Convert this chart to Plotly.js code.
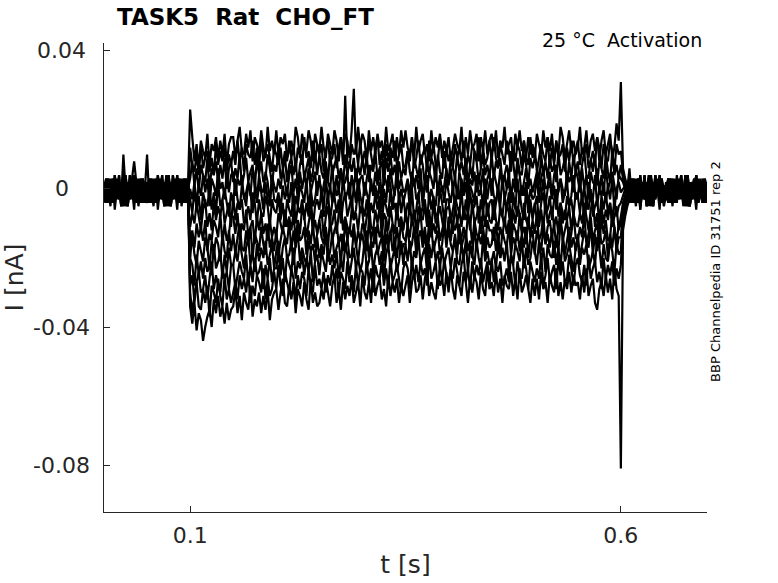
<!DOCTYPE html>
<html>
<head>
<meta charset="utf-8">
<script src="https://cdn.plot.ly/plotly-3.0.1.min.js"></script>
<style>html,body{margin:0;padding:0;background:#fff;}#plot{width:778px;height:583px;}</style>
</head>
<body>
<div id="plot"></div>
<script>
// Time axis: sampling start and interval [s]
const t0 = 0;
const dt = 0.0025;

// Current traces [nA], one per voltage sweep (281 samples, 0 .. 0.7 s)
const sweep01 = [
-.003,.003,-.001,0,-.004,.002,-.002,.001,-.003,.010,0,-.005,.001,-.002,.004,-.003,-.001,.002,-.004,0,
.010,-.003,-.002,0,.002,-.004,.003,-.001,.001,-.005,.004,-.002,.002,-.003,0,-.001,.003,-.004,-.002,.001,
.023,.015,.008,.013,.006,.014,.011,.009,.016,.007,.013,.011,.015,.009,.014,.010,.016,.007,.013,.015,
.015,.009,.014,.018,.011,.010,.016,.012,.017,.008,.015,.013,.010,.017,.012,.009,.018,.011,.014,.010,
.017,.010,.015,.013,.016,.009,.011,.014,.010,.018,.015,.009,.016,.012,.011,.017,.014,.008,.016,.013,
.011,.018,.012,.009,.016,.013,.010,.017,.014,.008,.015,.011,.016,.014,.009,.017,.029,.010,.018,.012,
.016,.014,.008,.017,.011,.015,.010,.016,.012,.014,.009,.018,.011,.013,.016,.008,.015,.010,.017,.012,
.017,.012,.010,.015,.009,.018,.011,.014,.016,.010,.013,.008,.017,.011,.015,.012,.016,.009,.014,.011,
.015,.008,.012,.016,.013,.011,.018,.009,.015,.010,.017,.012,.013,.016,.008,.015,.011,.017,.010,.014,
.016,.011,.017,.009,.014,.012,.018,.010,.013,.015,.008,.016,.012,.017,.011,.014,.009,.015,.010,.013,
.009,.016,.013,.010,.017,.012,.015,.011,.016,.008,.014,.010,.018,.015,.009,.013,.017,.011,.014,.010,
.012,.018,.010,.012,.017,.009,.014,.016,.011,.015,.008,.014,.017,.010,.013,.016,.009,.012,.019,.014,
.031,.006,.003,.001,.002,-.004,.001,-.001,.003,-.006,0,-.003,.002,-.002,.001,-.004,.004,-.002,-.001,.003,-.005,
.001,-.002,-.004,.003,-.001,0,-.003,.002,-.002,.004,-.005,.001,-.001,.003,-.004,.002,0,-.002,-.003,.001
];
const sweep02 = [
.001,-.002,-.004,.003,-.001,0,-.003,.002,-.002,.004,-.005,.001,-.001,.003,.008,.002,0,-.002,-.003,.001,
0,.003,-.004,-.001,.001,-.003,.002,-.002,-.001,.004,-.005,.001,-.003,.002,0,-.004,-.002,.003,.001,-.003,
.012,.007,.005,.010,.004,.013,.006,.009,.011,.005,.009,.004,.013,.007,.011,.008,.012,.005,.010,.007,
.011,.007,.014,.008,.012,.005,.013,.010,.009,.014,.007,.012,.006,.015,.008,.010,.013,.009,.005,.012,
.010,.007,.012,.006,.011,.008,.014,.009,.013,.005,.012,.010,.007,.015,.009,.011,.006,.014,.008,.013,
.010,.013,.005,.011,.014,.008,.009,.013,.006,.012,.015,.007,.027,.008,.006,.013,.010,.012,.007,.014,
.007,.011,.008,.014,.010,.006,.012,.015,.007,.011,.005,.013,.008,.012,.009,.014,.007,.010,.013,.006,
.007,.011,.008,.015,.006,.009,.014,.007,.010,.012,.005,.014,.009,.013,.007,.008,.015,.011,.006,.012,
.008,.011,.006,.013,.009,.012,.008,.014,.005,.010,.007,.013,.011,.008,.015,.006,.012,.007,.009,.014,
.008,.015,.009,.006,.013,.010,.007,.014,.011,.005,.012,.008,.013,.011,.006,.014,.009,.007,.015,.009,
.012,.005,.009,.013,.010,.008,.015,.006,.012,.007,.014,.009,.010,.013,.005,.012,.008,.014,.007,.011,
.014,.007,.012,.010,.013,.006,.008,.011,.007,.015,.012,.006,.013,.009,.008,.014,.011,.005,.013,.010,
.011,.005,.002,0,.006,-.003,.003,0,-.004,.001,-.002,.004,-.003,-.001,.002,-.005,0,-.002,.003,-.003,.001,
-.002,.003,-.001,-.004,.002,-.003,.001,0,-.003,.003,-.002,-.005,.002,-.001,.004,-.003,.001,-.002,0,-.004
];
const sweep03 = [
0,.003,-.004,-.001,.001,-.003,.002,-.002,-.001,.004,-.005,.001,-.003,.002,0,-.004,-.002,.003,.001,-.003,
-.003,.003,-.001,0,-.004,.002,-.002,.001,-.003,.003,0,-.005,.001,-.002,.004,-.003,-.001,.002,-.004,0,
.003,.008,.001,.006,-.001,.007,.004,.002,.009,0,.006,.004,.008,.002,.007,.003,.009,0,.006,.008,
.002,.006,.003,.010,.001,.004,.009,.002,.005,.007,0,.009,.004,.008,.002,.003,.010,.006,.001,.007,
.005,.011,.003,.005,.010,.002,.007,.009,.004,.008,.001,.007,.010,.003,.006,.009,.002,.005,.011,.004,
.010,.005,.003,.008,.002,.011,.004,.007,.009,.003,.006,.001,.010,.004,.008,.005,.009,.002,.007,.004,
.009,.004,.010,.002,.007,.005,.011,.003,.006,.008,.001,.009,.005,.010,.004,.007,.002,.008,.003,.006,
.004,.011,.005,.002,.009,.006,.003,.010,.007,.001,.008,.004,.009,.007,.002,.010,.005,.003,.011,.005,
.002,.009,.006,.003,.010,.005,.008,.004,.009,.001,.007,.003,.011,.008,.002,.006,.010,.004,.007,.003,
.010,.003,.008,.006,.009,.002,.004,.007,.003,.011,.008,.002,.009,.005,.004,.010,.007,.001,.009,.006,
.009,.007,.001,.010,.004,.008,.003,.009,.005,.007,.002,.011,.004,.006,.009,.001,.008,.003,.010,.005,
.008,.002,.007,.011,.004,.003,.009,.005,.010,.001,.008,.006,.003,.010,.005,.002,.011,.004,.007,.003,
.007,.003,.001,.002,0,-.004,.002,-.001,-.003,.004,-.002,.001,-.005,0,.003,-.003,.001,-.002,.002,-.004,0,
-.001,-.003,.003,0,-.004,.001,-.002,.004,-.003,-.001,.002,-.005,0,-.002,.003,-.003,.001,-.004,.002,-.001
];
const sweep04 = [
.002,-.003,0,-.005,.003,-.001,-.002,.004,-.004,.001,-.002,.002,-.003,0,-.006,.003,-.001,.001,-.004,.002,
-.001,.002,-.004,.001,-.003,.003,-.002,0,-.005,.002,-.001,-.003,.004,-.002,.001,-.004,0,.003,-.003,-.001,
0,-.003,.002,-.004,.001,-.002,.004,-.001,.003,-.005,.003,.001,-.002,.006,0,.002,-.003,.005,-.001,.004,
.005,-.002,.003,.001,.004,-.003,-.001,.002,-.002,.006,.003,-.003,.004,0,-.001,.005,.002,-.004,.004,.001,
-.001,.003,0,.006,.002,-.002,.004,.007,-.001,.003,-.003,.005,0,.004,.001,.006,-.001,.002,.005,-.002,
.004,-.003,.001,.005,.002,0,.007,-.002,.004,-.001,.006,.001,.002,.005,-.003,.004,0,.006,-.001,.003,
.004,-.002,.003,.007,0,-.001,.005,.001,.006,-.003,.004,.002,-.001,.006,.001,-.002,.007,0,.003,-.001,
0,.003,-.002,.005,.001,.004,0,.006,-.003,.002,-.001,.005,.003,0,.007,-.002,.004,-.001,.001,.006,
.001,.006,-.001,.004,-.003,.005,.002,0,.007,-.002,.003,.001,.005,-.001,.004,0,.006,-.003,.003,.005,
-.002,.005,.002,-.001,.006,.001,.004,0,.005,-.003,.003,-.001,.007,.004,-.002,.002,.006,0,.003,-.001,
.002,.005,-.003,.003,.006,0,.001,.005,-.002,.004,.007,-.001,.003,0,-.002,.005,.002,.004,-.001,.006,
.003,-.001,.006,0,.004,-.003,.005,.002,.001,.006,-.001,.004,-.002,.007,0,.002,.005,.001,-.003,.004,
.003,.002,0,.001,-.004,0,-.002,.001,-.003,.004,-.001,.002,-.005,-.002,.003,-.003,0,.001,-.003,.002,-.004,
-.003,.001,.003,-.002,-.004,0,.002,-.003,.001,-.005,.004,-.001,-.002,.002,-.003,.001,-.001,-.004,.003,0
];
const sweep05 = [
-.004,0,-.002,.001,-.003,.004,-.001,.002,-.005,-.002,.003,-.003,0,.001,-.003,.002,-.004,-.001,.003,-.002,
.002,-.004,.001,-.001,.003,-.006,0,-.003,.002,-.002,.001,-.004,.004,-.002,-.001,.003,-.005,0,-.003,.002,
-.003,-.007,0,-.006,-.002,-.009,-.001,-.004,-.005,0,-.006,-.001,-.007,.002,-.005,-.003,0,-.004,-.008,-.001,
-.004,.003,-.003,-.006,.001,-.002,-.005,.002,-.001,-.007,0,-.004,.001,-.001,-.006,.002,-.003,-.005,.003,-.003,
-.004,-.001,-.006,.001,-.003,0,-.004,.002,-.007,-.002,-.005,.001,-.001,-.004,.003,-.006,0,-.005,-.003,.002,
.002,0,-.006,.003,-.003,.001,-.004,.002,-.002,0,-.005,.004,-.003,-.001,.002,-.006,.001,-.004,.003,-.002,
-.005,.002,-.001,-.004,.003,-.002,.001,-.003,.002,-.006,0,-.004,.004,.001,-.005,-.001,.003,-.003,0,-.004,
-.001,.002,-.006,0,.003,-.003,-.002,.002,-.005,.001,.004,-.004,0,-.003,-.005,.002,-.001,.001,-.004,.003,
-.001,-.004,.001,-.005,0,-.003,.003,-.002,.002,-.006,.001,-.001,-.004,.004,-.002,0,-.005,.003,-.003,.002,
.003,-.002,-.004,.001,-.005,.004,-.003,0,.002,-.004,-.001,-.006,.003,-.003,.001,-.002,.002,-.005,0,-.003,
-.002,.004,-.004,-.002,.003,-.005,0,.002,-.003,.001,-.006,0,.003,-.004,-.001,.002,-.005,-.002,.004,-.003,
-.002,.003,-.004,.001,-.006,.002,-.001,-.003,.004,-.005,0,-.002,.002,-.004,.001,-.003,.003,-.006,0,.002,
-.001,0,.001,-.002,.001,-.002,-.004,.003,-.001,0,-.003,.002,-.002,.004,-.005,.001,-.001,.003,-.004,.002,0,
-.003,.003,-.001,0,-.004,.002,-.002,.001,-.003,.003,0,-.005,.001,-.002,.004,-.003,-.001,.002,-.004,0
];
const sweep06 = [
-.001,-.003,.003,0,-.004,.001,-.002,.004,-.003,-.001,.002,-.005,0,-.002,.003,-.003,.001,-.004,.002,-.001,
-.002,.003,-.001,-.004,.002,-.003,.001,0,-.003,.003,-.002,-.005,.002,-.001,.004,-.003,.001,-.002,0,-.004,
-.011,-.007,-.010,-.004,-.008,-.012,-.006,-.003,-.011,-.007,-.012,-.004,-.009,-.005,-.008,-.003,-.010,-.007,-.004,-.011,
-.002,-.009,-.004,-.006,-.003,-.010,-.008,-.005,-.009,-.001,-.004,-.010,-.003,-.007,-.008,-.002,-.005,-.011,-.003,-.006,
-.007,-.002,-.009,-.004,-.011,-.003,-.006,-.008,-.001,-.010,-.005,-.007,-.003,-.009,-.004,-.008,-.002,-.011,-.005,-.003,
-.006,0,-.008,-.006,-.001,-.009,-.004,-.002,-.007,-.003,-.010,-.004,-.001,-.008,-.005,-.002,-.009,-.006,0,-.007,
-.005,-.008,-.003,-.009,-.004,-.007,-.001,-.006,-.002,-.010,-.003,-.005,-.008,0,-.006,-.004,-.009,-.001,-.007,-.002,
-.008,-.004,-.007,0,-.009,-.006,-.001,-.008,-.005,-.003,-.010,-.001,-.006,-.002,-.008,-.007,0,-.004,-.009,-.003,
-.003,-.010,-.006,-.002,-.005,-.007,0,-.009,-.003,-.008,-.001,-.006,-.005,-.002,-.010,-.003,-.007,-.001,-.008,-.004,
-.003,-.009,-.004,0,-.007,-.008,-.002,-.006,-.001,-.010,-.003,-.005,-.008,-.001,-.006,-.009,0,-.007,-.004,-.008,
-.005,-.002,-.010,-.004,-.001,-.007,-.006,-.002,-.009,-.003,0,-.008,-.004,-.007,-.009,-.002,-.005,-.003,-.008,-.001,
-.002,-.007,-.001,-.009,-.004,-.006,0,-.008,-.005,-.003,-.010,-.002,-.006,-.001,-.007,-.004,-.009,-.003,-.008,-.005,
-.004,-.002,0,-.001,0,.003,-.004,-.001,.001,-.003,.002,-.002,-.001,.004,-.005,.001,-.003,.002,0,-.004,-.002,
.002,-.003,0,-.005,.003,-.001,-.002,.004,-.004,.001,-.002,.002,-.003,0,-.006,.003,-.001,.001,-.004,.002
];
const sweep07 = [
.001,-.003,-.002,0,.002,-.004,.003,-.001,.001,-.005,.004,-.002,.002,-.003,0,-.001,.003,-.004,-.002,.001,
-.003,.001,.003,-.002,-.004,0,.002,-.003,.001,-.005,.004,-.001,-.002,.002,-.003,.001,-.001,-.004,.003,0,
-.015,-.012,-.017,-.010,-.014,-.011,-.015,-.009,-.018,-.013,-.015,-.009,-.011,-.014,-.007,-.016,-.010,-.015,-.013,-.008,
-.008,-.013,-.007,-.015,-.010,-.012,-.006,-.014,-.011,-.009,-.016,-.008,-.012,-.007,-.013,-.010,-.015,-.009,-.014,-.011,
-.014,-.007,-.010,-.013,-.006,-.011,-.008,-.012,-.007,-.015,-.009,-.013,-.005,-.008,-.014,-.010,-.006,-.012,-.009,-.013,
-.009,-.006,-.014,-.008,-.005,-.011,-.010,-.006,-.013,-.007,-.004,-.012,-.008,-.011,-.013,-.006,-.009,-.007,-.012,-.005,
-.007,-.013,-.008,-.004,-.011,-.012,-.006,-.010,-.005,-.014,-.007,-.009,-.012,-.005,-.010,-.013,-.004,-.011,-.008,-.012,
-.007,-.011,-.004,-.010,-.006,-.013,-.005,-.008,-.009,-.004,-.011,-.006,-.012,-.003,-.010,-.008,-.005,-.009,-.013,-.006,
-.005,-.007,-.013,-.004,-.010,-.006,-.011,-.005,-.009,-.007,-.012,-.003,-.010,-.008,-.005,-.013,-.006,-.011,-.004,-.009,
-.010,-.003,-.009,-.012,-.005,-.008,-.011,-.004,-.007,-.013,-.006,-.010,-.005,-.007,-.012,-.004,-.009,-.011,-.003,-.009,
-.004,-.009,-.011,-.006,-.012,-.003,-.010,-.007,-.005,-.011,-.008,-.013,-.004,-.010,-.006,-.009,-.005,-.012,-.007,-.010,
-.011,-.007,-.010,-.004,-.008,-.012,-.006,-.003,-.011,-.007,-.013,-.005,-.010,-.006,-.009,-.004,-.011,-.008,-.005,-.012,
-.008,-.004,-.002,.001,.002,-.003,0,-.005,.003,-.001,-.002,.004,-.004,.001,-.002,.002,-.003,0,-.006,.003,-.001,
.001,-.003,-.002,0,.002,-.004,.003,-.001,.001,-.005,.004,-.002,.002,-.003,0,-.001,.003,-.004,-.002,.001
];
const sweep08 = [
.002,-.004,.001,-.001,.003,-.006,0,-.003,.002,-.002,.001,-.004,.004,-.002,-.001,.003,-.005,0,-.003,.002,
0,-.004,.002,-.001,-.003,.004,-.002,.001,-.005,0,.003,-.003,.001,-.002,.002,-.004,0,-.001,.003,-.003,
-.020,-.013,-.019,-.022,-.015,-.018,-.021,-.014,-.017,-.023,-.015,-.019,-.014,-.016,-.021,-.013,-.018,-.020,-.012,-.018,
-.013,-.019,-.014,-.010,-.017,-.018,-.012,-.016,-.011,-.020,-.013,-.015,-.018,-.011,-.016,-.019,-.010,-.017,-.014,-.018,
-.012,-.019,-.015,-.011,-.014,-.016,-.009,-.018,-.012,-.017,-.010,-.015,-.014,-.011,-.019,-.012,-.016,-.010,-.017,-.013,
-.009,-.014,-.016,-.011,-.017,-.008,-.015,-.012,-.010,-.016,-.013,-.018,-.009,-.015,-.011,-.014,-.010,-.017,-.012,-.015,
-.010,-.012,-.018,-.009,-.015,-.011,-.016,-.010,-.014,-.012,-.017,-.008,-.015,-.013,-.010,-.018,-.011,-.016,-.009,-.014,
-.015,-.011,-.014,-.008,-.012,-.016,-.010,-.007,-.015,-.011,-.017,-.009,-.014,-.010,-.013,-.008,-.015,-.012,-.009,-.016,
-.008,-.015,-.010,-.012,-.009,-.016,-.014,-.011,-.015,-.007,-.010,-.016,-.009,-.013,-.014,-.008,-.011,-.017,-.009,-.012,
-.012,-.015,-.010,-.016,-.011,-.014,-.008,-.013,-.009,-.017,-.010,-.012,-.015,-.007,-.013,-.011,-.016,-.008,-.014,-.009,
-.013,-.007,-.015,-.013,-.008,-.016,-.011,-.009,-.014,-.010,-.017,-.011,-.008,-.015,-.012,-.009,-.016,-.013,-.007,-.014,
-.015,-.011,-.014,-.007,-.016,-.013,-.008,-.015,-.012,-.010,-.017,-.008,-.013,-.009,-.015,-.014,-.007,-.011,-.016,-.010,
-.011,-.005,-.002,0,-.003,.003,-.001,0,-.004,.002,-.002,.001,-.003,.003,0,-.005,.001,-.002,.004,-.003,-.001,
-.002,.003,-.001,-.004,.002,-.003,.001,0,-.003,.003,-.002,-.005,.002,-.001,.004,-.003,.001,-.002,0,-.004
];
const sweep09 = [
0,-.004,.002,-.001,-.003,.004,-.002,.001,-.005,0,.003,-.003,.001,-.002,.002,-.004,0,-.001,.003,-.003,
-.004,0,-.002,.001,-.003,.004,-.001,.002,-.005,-.002,.003,-.003,0,.001,-.003,.002,-.004,-.001,.003,-.002,
-.020,-.022,-.028,-.019,-.025,-.021,-.026,-.020,-.024,-.022,-.025,-.016,-.023,-.021,-.018,-.026,-.019,-.024,-.017,-.022,
-.022,-.018,-.021,-.015,-.019,-.023,-.017,-.014,-.022,-.018,-.024,-.016,-.021,-.017,-.020,-.015,-.022,-.019,-.016,-.023,
-.018,-.015,-.023,-.017,-.014,-.020,-.019,-.015,-.022,-.016,-.013,-.021,-.017,-.020,-.022,-.015,-.018,-.016,-.021,-.014,
-.020,-.016,-.019,-.012,-.021,-.018,-.013,-.020,-.017,-.015,-.022,-.013,-.018,-.014,-.020,-.019,-.012,-.016,-.021,-.015,
-.013,-.018,-.012,-.020,-.015,-.017,-.011,-.019,-.016,-.014,-.021,-.013,-.017,-.012,-.018,-.015,-.020,-.014,-.019,-.016,
-.016,-.010,-.018,-.016,-.011,-.019,-.014,-.012,-.017,-.013,-.020,-.014,-.011,-.018,-.015,-.012,-.019,-.016,-.010,-.017,
-.011,-.016,-.018,-.013,-.019,-.010,-.017,-.014,-.012,-.018,-.015,-.020,-.011,-.017,-.013,-.016,-.012,-.019,-.014,-.017,
-.016,-.011,-.018,-.013,-.020,-.012,-.015,-.017,-.010,-.019,-.014,-.016,-.012,-.018,-.013,-.017,-.011,-.020,-.014,-.012,
-.019,-.012,-.015,-.018,-.011,-.016,-.013,-.017,-.012,-.020,-.014,-.018,-.010,-.013,-.019,-.015,-.011,-.017,-.014,-.018,
-.013,-.020,-.016,-.012,-.015,-.017,-.010,-.019,-.013,-.018,-.011,-.016,-.015,-.012,-.020,-.013,-.017,-.011,-.018,-.014,
-.014,-.006,-.003,-.001,-.001,.002,-.004,.001,-.003,.003,-.002,0,-.005,.002,-.001,-.003,.004,-.002,.001,-.004,0,
0,.003,-.004,-.001,.001,-.003,.002,-.002,-.001,.004,-.005,.001,-.003,.002,0,-.004,-.002,.003,.001,-.003
];
const sweep10 = [
-.002,.003,-.001,-.004,.002,-.003,.001,0,-.003,.003,-.002,-.005,.002,-.001,.004,-.003,.001,-.002,0,-.004,
-.001,-.003,.003,0,-.004,.001,-.002,.004,-.003,-.001,.002,-.005,0,-.002,.003,-.003,.001,-.004,.002,-.001,
-.028,-.025,-.033,-.027,-.024,-.030,-.029,-.025,-.032,-.026,-.021,-.029,-.025,-.028,-.030,-.023,-.026,-.024,-.029,-.022,
-.022,-.029,-.025,-.021,-.024,-.026,-.019,-.028,-.022,-.027,-.020,-.025,-.024,-.021,-.029,-.022,-.026,-.020,-.027,-.023,
-.023,-.018,-.025,-.020,-.027,-.019,-.022,-.024,-.017,-.026,-.021,-.023,-.019,-.025,-.020,-.024,-.018,-.027,-.021,-.019,
-.025,-.018,-.021,-.024,-.017,-.022,-.019,-.023,-.018,-.026,-.020,-.024,-.016,-.019,-.025,-.021,-.017,-.023,-.020,-.024,
-.021,-.015,-.023,-.021,-.016,-.024,-.019,-.017,-.022,-.018,-.025,-.019,-.016,-.023,-.020,-.017,-.024,-.021,-.015,-.022,
-.016,-.021,-.015,-.023,-.018,-.020,-.014,-.022,-.019,-.017,-.024,-.016,-.020,-.015,-.021,-.018,-.023,-.017,-.022,-.019,
-.017,-.023,-.018,-.014,-.021,-.022,-.016,-.020,-.015,-.024,-.017,-.019,-.022,-.015,-.020,-.023,-.014,-.021,-.018,-.022,
-.021,-.018,-.023,-.016,-.020,-.017,-.021,-.015,-.024,-.019,-.022,-.016,-.018,-.021,-.014,-.023,-.017,-.022,-.020,-.015,
-.018,-.022,-.015,-.021,-.017,-.024,-.016,-.019,-.020,-.015,-.022,-.017,-.023,-.014,-.021,-.019,-.016,-.020,-.024,-.017,
-.015,-.022,-.017,-.019,-.016,-.023,-.021,-.018,-.022,-.014,-.017,-.023,-.016,-.020,-.021,-.015,-.018,-.024,-.016,-.019,
-.018,-.007,-.004,-.002,.002,-.004,.001,-.001,.003,-.006,0,-.003,.002,-.002,.001,-.004,.004,-.002,-.001,.003,-.005,
.001,-.002,-.004,.003,-.001,0,-.003,.002,-.002,.004,-.005,.001,-.001,.003,-.004,.002,0,-.002,-.003,.001
];
const sweep11 = [
-.003,.001,.003,-.002,-.004,0,.002,-.003,.001,-.005,.004,-.001,-.002,.002,-.003,.001,-.001,-.004,.003,0,
.001,-.002,-.004,.003,-.001,0,-.003,.002,-.002,.004,-.005,.001,-.001,.003,-.004,.002,0,-.002,-.003,.001,
-.030,-.036,-.031,-.027,-.034,-.035,-.029,-.033,-.028,-.037,-.028,-.030,-.033,-.026,-.031,-.034,-.025,-.032,-.029,-.033,
-.030,-.027,-.032,-.025,-.029,-.026,-.030,-.024,-.033,-.028,-.031,-.025,-.027,-.030,-.023,-.032,-.026,-.031,-.029,-.024,
-.029,-.022,-.028,-.031,-.024,-.027,-.030,-.023,-.026,-.032,-.025,-.029,-.024,-.026,-.031,-.023,-.028,-.030,-.022,-.028,
-.026,-.029,-.024,-.030,-.025,-.028,-.022,-.027,-.023,-.031,-.024,-.026,-.029,-.021,-.027,-.025,-.030,-.022,-.028,-.023,
-.024,-.028,-.021,-.027,-.023,-.030,-.022,-.025,-.026,-.021,-.028,-.023,-.029,-.020,-.027,-.025,-.022,-.026,-.030,-.023,
-.021,-.023,-.029,-.020,-.026,-.022,-.027,-.021,-.025,-.023,-.028,-.019,-.026,-.024,-.021,-.029,-.022,-.027,-.020,-.025,
-.027,-.023,-.026,-.020,-.024,-.028,-.022,-.019,-.027,-.023,-.029,-.021,-.026,-.022,-.025,-.020,-.027,-.024,-.021,-.028,
-.020,-.027,-.022,-.024,-.021,-.028,-.026,-.023,-.027,-.019,-.022,-.028,-.021,-.025,-.026,-.020,-.023,-.029,-.021,-.024,
-.027,-.023,-.026,-.019,-.028,-.025,-.020,-.027,-.024,-.022,-.029,-.020,-.025,-.021,-.027,-.026,-.019,-.023,-.028,-.022,
-.020,-.025,-.027,-.022,-.028,-.019,-.026,-.023,-.021,-.027,-.024,-.029,-.020,-.026,-.022,-.025,-.021,-.028,-.023,-.026,
-.022,-.009,-.006,-.003,-.002,.003,-.001,-.004,.002,-.003,.001,0,-.003,.003,-.002,-.005,.002,-.001,.004,-.003,.001,
-.001,-.003,.003,0,-.004,.001,-.002,.004,-.003,-.001,.002,-.005,0,-.002,.003,-.003,.001,-.004,.002,-.001
];
const sweep12 = [
-.001,.002,-.004,.001,-.003,.003,-.002,0,-.005,.002,-.001,-.003,.004,-.002,.001,-.004,0,.003,-.003,-.001,
.002,-.003,0,-.005,.003,-.001,-.002,.004,-.004,.001,-.002,.002,-.003,0,-.006,.003,-.001,.001,-.004,.002,
-.034,-.039,-.033,-.041,-.036,-.038,-.044,-.040,-.037,-.035,-.040,-.032,-.036,-.031,-.037,-.034,-.039,-.033,-.038,-.035,
-.034,-.029,-.036,-.031,-.038,-.030,-.033,-.035,-.028,-.037,-.032,-.034,-.030,-.036,-.031,-.035,-.029,-.038,-.032,-.030,
-.029,-.035,-.030,-.026,-.033,-.034,-.028,-.032,-.027,-.036,-.029,-.031,-.034,-.027,-.032,-.035,-.026,-.033,-.030,-.034,
-.033,-.029,-.032,-.026,-.030,-.034,-.028,-.025,-.033,-.029,-.035,-.027,-.032,-.028,-.031,-.026,-.033,-.030,-.027,-.034,
-.025,-.030,-.032,-.027,-.033,-.024,-.031,-.028,-.026,-.032,-.029,-.034,-.025,-.031,-.027,-.030,-.026,-.033,-.028,-.031,
-.028,-.025,-.033,-.027,-.024,-.030,-.029,-.025,-.032,-.026,-.023,-.031,-.027,-.030,-.032,-.025,-.028,-.026,-.031,-.024,
-.030,-.023,-.029,-.032,-.025,-.028,-.031,-.024,-.027,-.033,-.026,-.030,-.025,-.027,-.032,-.024,-.029,-.031,-.023,-.029,
-.027,-.031,-.024,-.030,-.026,-.033,-.025,-.028,-.029,-.024,-.031,-.026,-.032,-.023,-.030,-.028,-.025,-.029,-.033,-.026,
-.031,-.026,-.032,-.024,-.029,-.027,-.033,-.025,-.028,-.030,-.023,-.031,-.027,-.032,-.026,-.029,-.024,-.030,-.025,-.028,
-.027,-.032,-.025,-.030,-.023,-.031,-.028,-.026,-.033,-.035,-.029,-.027,-.031,-.025,-.030,-.026,-.032,-.023,-.029,-.031,
-.081,-.012,-.008,-.005,-.003,.001,.003,-.002,-.004,0,.002,-.003,.001,-.005,.004,-.001,-.002,.002,-.003,.001,-.001,
0,-.004,.002,-.001,-.003,.004,-.002,.001,-.005,0,.003,-.003,.001,-.002,.002,-.004,0,-.001,.003,-.003
];

const sweeps = [sweep01, sweep02, sweep03, sweep04, sweep05, sweep06,
                sweep07, sweep08, sweep09, sweep10, sweep11, sweep12];

// Axis ticks
const xTickVals = [0.1, 0.6];
const xTickText = ['0.1', '0.6'];
const yTickVals = [0.04, 0, -0.04, -0.08];
const yTickText = ['0.04', '0', '-0.04', '-0.08'];

const FONT = 'DejaVu Sans, Liberation Sans, sans-serif';
const AX = '#262626';

const traces = sweeps.map((y, i) => ({
  type: 'scatter', mode: 'lines', name: 'sweep ' + (i + 1),
  x0: t0, dx: dt, y: y,
  line: {color: '#000000', width: 2.2, simplify: false},
  hoverinfo: 'skip', showlegend: false
}));

const annotations = yTickVals.map((v, i) => ({
  xref: 'paper', yref: 'y', x: -0.0697, y: v, text: yTickText[i],
  showarrow: false, xanchor: 'center', yanchor: 'middle',
  font: {family: FONT, size: 22, color: AX}
}));
annotations.push({
  xref: 'paper', yref: 'paper', x: 0.995, y: 1.0064,
  text: '25 °C\u00a0\u00a0Activation', showarrow: false,
  xanchor: 'right', yanchor: 'middle',
  font: {family: FONT, size: 19, color: '#000000'}
});
annotations.push({
  xref: 'paper', yref: 'paper', x: 1.0149, y: 0.514,
  text: 'BBP Channelpedia ID 31751 rep 2', showarrow: false, textangle: -90,
  xanchor: 'center', yanchor: 'middle',
  font: {family: FONT, size: 13, color: '#000000'}
});

const layout = {
  width: 778, height: 583,
  margin: {l: 104, r: 71, t: 43, b: 71, pad: 0},
  paper_bgcolor: '#ffffff', plot_bgcolor: '#ffffff',
  font: {family: FONT, color: AX},
  showlegend: false,
  title: {
    text: '<b>TASK5\u00a0\u00a0Rat\u00a0\u00a0CHO_FT</b>',
    xref: 'paper', x: 0.0216, xanchor: 'left',
    yref: 'container', y: 0.971, yanchor: 'middle',
    font: {family: FONT, size: 23, color: '#000000'}
  },
  xaxis: {
    range: [0, 0.7], showgrid: false, zeroline: false,
    showline: true, linecolor: AX, linewidth: 1,
    ticks: 'inside', ticklen: 6, tickwidth: 1, tickcolor: AX,
    tickmode: 'array', tickvals: xTickVals, ticktext: xTickText,
    tickfont: {family: FONT, size: 22, color: AX},
    ticklabelstandoff: 4,
    title: {text: 't [s]', font: {family: FONT, size: 25, color: AX}, standoff: 8}
  },
  yaxis: {
    range: [-0.0936, 0.0423], showgrid: false, zeroline: false,
    showline: true, linecolor: AX, linewidth: 1,
    ticks: 'inside', ticklen: 6, tickwidth: 1, tickcolor: AX,
    tickmode: 'array', tickvals: yTickVals, ticktext: yTickText,
    showticklabels: false,
    title: {text: 'I [nA]', font: {family: FONT, size: 25, color: AX}, standoff: 72}
  },
  annotations: annotations
};

Plotly.newPlot('plot', traces, layout, {displayModeBar: false, staticPlot: true});
</script>
</body>
</html>
